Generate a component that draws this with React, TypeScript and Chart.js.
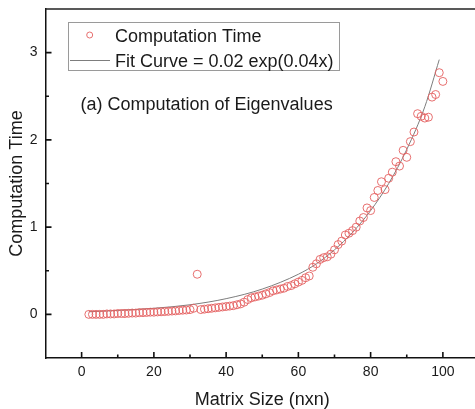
import React, { useEffect, useRef } from "react";
import { Chart, registerables } from "chart.js";

Chart.register(...registerables);

const FONT = '"Liberation Sans", Arial, Helvetica, sans-serif';

// Measured data: matrix size n vs computation time
const matrixSizes = [
  2, 3, 4, 5, 6, 7, 8, 9, 10, 11, 12, 13, 14, 15, 16, 17, 18, 19, 20,
  21, 22, 23, 24, 25, 26, 27, 28, 29, 30, 31, 32, 33, 34, 35, 36, 37, 38, 39, 40,
  41, 42, 43, 44, 45, 46, 47, 48, 49, 50, 51, 52, 53, 54, 55, 56, 57, 58, 59, 60,
  61, 62, 63, 64, 65, 66, 67, 68, 69, 70, 71, 72, 73, 74, 75, 76, 77, 78, 79, 80,
  81, 82, 83, 84, 85, 86, 87, 88, 89, 90, 91, 92, 93, 94, 95, 96, 97, 98, 99, 100,
];
const computationTimes = [
  0.0, 0.0, 0.0, 0.0, 0.0, 0.005, 0.005, 0.005, 0.01, 0.01, 0.01, 0.012, 0.015, 0.015, 0.02, 0.02, 0.022, 0.025, 0.025,
  0.028, 0.03, 0.032, 0.035, 0.038, 0.04, 0.045, 0.048, 0.05, 0.055, 0.07, 0.46, 0.055, 0.06, 0.065, 0.07, 0.075, 0.08, 0.085, 0.09,
  0.095, 0.1, 0.11, 0.12, 0.14, 0.17, 0.19, 0.2, 0.21, 0.22, 0.235, 0.25, 0.27, 0.28, 0.29, 0.3, 0.32, 0.33, 0.35, 0.37,
  0.39, 0.42, 0.44, 0.54, 0.58, 0.63, 0.65, 0.66, 0.69, 0.74, 0.8, 0.84, 0.91, 0.93, 0.96, 1.0, 1.07, 1.11, 1.22, 1.19,
  1.34, 1.42, 1.52, 1.43, 1.56, 1.63, 1.75, 1.7, 1.88, 1.8, 1.98, 2.09, 2.3, 2.27, 2.25, 2.26, 2.49, 2.52, 2.77, 2.67,
];

// Fit curve
const fitSizes = [2, 10, 20, 30, 40, 50, 60, 65, 70, 75, 80, 85, 90, 95, 99];
const fitTimes = [0.03, 0.045, 0.07, 0.11, 0.18, 0.29, 0.46, 0.58, 0.74, 0.94, 1.19, 1.5, 1.89, 2.38, 2.92];

const xMajorTicks = [0, 20, 40, 60, 80, 100];
const xMinorTicks = [10, 30, 50, 70, 90];
const yMajorTicks = [0, 1, 2, 3];
const yMinorTicks = [0.5, 1.5, 2.5];

const seriesLabel = "Computation Time";
const fitLabel = "Fit Curve = 0.02 exp(0.04x)";
const annotationText = "(a) Computation of Eigenvalues";
const xTitle = "Matrix Size (nxn)";
const yTitle = "Computation Time";

const MARKER_COLOR = "rgba(228, 96, 96, 0.9)";
const FIT_COLOR = "rgb(125, 125, 125)";
const TEXT_COLOR = "#1a1a1a";

const decorPlugin = {
  id: "decor",
  afterDraw(chart: any) {
    const ctx: CanvasRenderingContext2D = chart.ctx;
    const x = chart.scales.x;
    const y = chart.scales.y;
    const left = Number(x.left);
    const right = Number(x.right);
    const top = Number(y.top);
    const bottom = Number(y.bottom);
    ctx.save();
    ctx.setLineDash([]);
    // top frame line
    ctx.strokeStyle = "#222";
    ctx.lineWidth = 1.6;
    ctx.beginPath();
    ctx.moveTo(left, top);
    ctx.lineTo(right, top);
    ctx.stroke();

    // inward ticks
    ctx.strokeStyle = "#111";
    ctx.lineWidth = 1.6;
    ctx.beginPath();
    xMajorTicks.forEach((v) => {
      const p = x.getPixelForValue(v);
      ctx.moveTo(p, bottom);
      ctx.lineTo(p, bottom - 6);
    });
    xMinorTicks.forEach((v) => {
      const p = x.getPixelForValue(v);
      ctx.moveTo(p, bottom);
      ctx.lineTo(p, bottom - 3.5);
    });
    yMajorTicks.forEach((v) => {
      const p = y.getPixelForValue(v);
      ctx.moveTo(left, p);
      ctx.lineTo(left + 6, p);
    });
    yMinorTicks.forEach((v) => {
      const p = y.getPixelForValue(v);
      ctx.moveTo(left, p);
      ctx.lineTo(left + 3.5, p);
    });
    ctx.stroke();

    // legend box
    ctx.fillStyle = "#fff";
    ctx.fillRect(68.5, 22.5, 271, 48);
    ctx.strokeStyle = "#9a9a9a";
    ctx.lineWidth = 1;
    ctx.strokeRect(68.5, 22.5, 271, 48);

    ctx.strokeStyle = MARKER_COLOR;
    ctx.lineWidth = 1;
    ctx.beginPath();
    ctx.arc(89.7, 35, 3, 0, Math.PI * 2);
    ctx.stroke();

    ctx.strokeStyle = FIT_COLOR;
    ctx.beginPath();
    ctx.moveTo(70, 60.5);
    ctx.lineTo(110, 60.5);
    ctx.stroke();

    ctx.fillStyle = TEXT_COLOR;
    ctx.font = `18px ${FONT}`;
    ctx.textBaseline = "alphabetic";
    ctx.textAlign = "left";
    ctx.fillText(chart.data.datasets[0].label, 115, 42);
    ctx.fillText(chart.data.datasets[1].label, 115, 66.5);

    ctx.fillText(annotationText, 80.5, 109.5);
    ctx.restore();
  },
};

export default function App() {
  const canvasRef = useRef<HTMLCanvasElement | null>(null);

  useEffect(() => {
    const canvas = canvasRef.current;
    if (!canvas) return;
    const chart = new Chart(canvas, {
      type: "scatter",
      data: {
        datasets: [
          {
            label: seriesLabel,
            data: matrixSizes.map((n, i) => ({ x: n, y: computationTimes[i] })),
            showLine: false,
            pointStyle: "circle",
            pointRadius: 4,
            pointHoverRadius: 4,
            pointBorderWidth: 1,
            borderColor: MARKER_COLOR,
            backgroundColor: "rgba(0,0,0,0)",
            pointBackgroundColor: "rgba(0,0,0,0)",
            pointBorderColor: MARKER_COLOR,
          },
          {
            label: fitLabel,
            data: fitSizes.map((n, i) => ({ x: n, y: fitTimes[i] })),
            showLine: true,
            pointRadius: 0,
            borderColor: FIT_COLOR,
            borderWidth: 1,
            tension: 0.4,
            cubicInterpolationMode: "monotone",
            fill: false,
          },
        ],
      },
      options: {
        animation: false,
        responsive: false,
        devicePixelRatio: 1,
        layout: { autoPadding: false, padding: { top: 9, left: 0, right: 0, bottom: 0 } },
        plugins: {
          legend: { display: false },
          tooltip: { enabled: false },
        },
        scales: {
          x: {
            type: "linear",
            min: -10,
            max: 110,
            afterBuildTicks: (scale: any) => {
              scale.ticks = xMajorTicks.map((v) => ({ value: v }));
            },
            afterFit: (scale: any) => {
              scale.height = 51;
              scale.paddingLeft = 0;
              scale.paddingRight = 0;
              scale.paddingTop = 0;
              scale.paddingBottom = 0;
            },
            grid: { display: false, drawTicks: false, tickLength: 0 },
            border: { display: true, color: "#111", width: 1.5 },
            ticks: {
              padding: 6,
              color: TEXT_COLOR,
              font: { family: FONT, size: 14 },
              maxRotation: 0,
              autoSkip: false,
            },
            title: {
              display: true,
              text: xTitle,
              color: TEXT_COLOR,
              font: { family: FONT, size: 18, lineHeight: 1 },
              padding: { top: 0, bottom: 0 },
            },
          },
          y: {
            type: "linear",
            min: -0.5,
            max: 3.5,
            afterBuildTicks: (scale: any) => {
              scale.ticks = yMajorTicks.map((v) => ({ value: v }));
            },
            afterFit: (scale: any) => {
              scale.width = 45.5;
              scale.paddingLeft = 0;
              scale.paddingRight = 0;
              scale.paddingTop = 0;
              scale.paddingBottom = 0;
            },
            grid: { display: false, drawTicks: false, tickLength: 0 },
            border: { display: true, color: "#111", width: 1.5 },
            ticks: {
              padding: 8,
              color: TEXT_COLOR,
              font: { family: FONT, size: 14 },
              autoSkip: false,
            },
            title: {
              display: true,
              text: yTitle,
              color: TEXT_COLOR,
              font: { family: FONT, size: 18 },
              padding: { top: 6, bottom: 0 },
            },
          },
        },
      },
      plugins: [decorPlugin],
    } as any);
    return () => chart.destroy();
  }, []);

  return (
    <div
      style={{
        position: "fixed",
        left: 0,
        top: 0,
        width: 475,
        height: 409,
        overflow: "hidden",
        background: "#fff",
      }}
    >
      <canvas ref={canvasRef} width={479} height={409} style={{ display: "block" }} />
    </div>
  );
}
